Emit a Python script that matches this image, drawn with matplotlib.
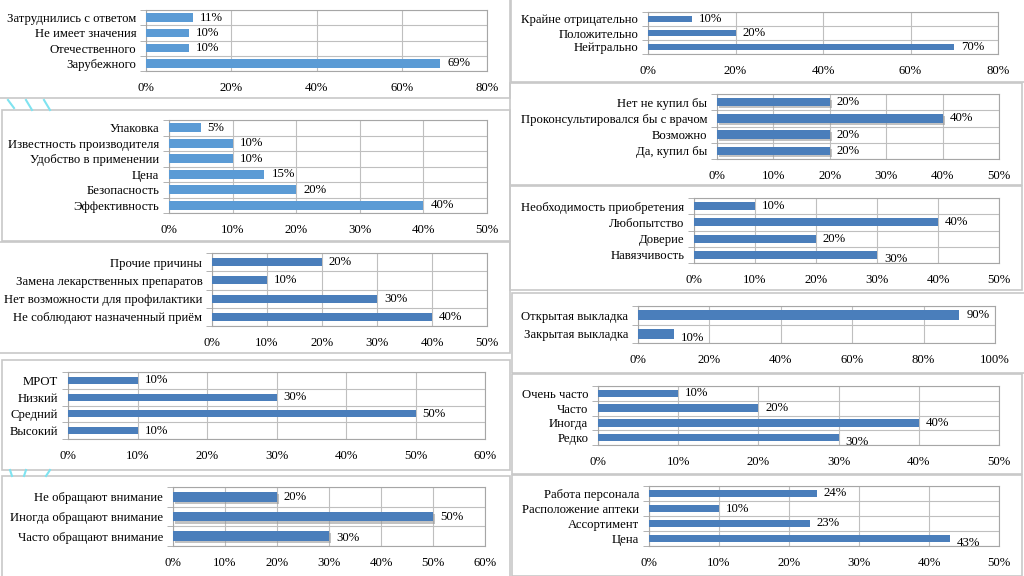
import matplotlib
matplotlib.use("Agg")
import matplotlib.pyplot as plt
import matplotlib.patheffects as pe
from matplotlib.patches import Rectangle
from matplotlib.lines import Line2D
import numpy as np

plt.rcParams['font.family'] = ['Liberation Serif', 'DejaVu Serif']

W, H = 1024, 576

# ---- data (categories listed top to bottom, values in %) ----
origin_cats = ["Затруднились с ответом", "Не имеет значения", "Отечественного", "Зарубежного"]
origin_vals = [11, 10, 10, 69]

factor_cats = ["Упаковка", "Известность производителя", "Удобство в применении",
               "Цена", "Безопасность", "Эффективность"]
factor_vals = [5, 10, 10, 15, 20, 40]

reason_cats = ["Прочие причины", "Замена лекарственных препаратов",
               "Нет возможности для профилактики", "Не соблюдают назначенный приём"]
reason_vals = [20, 10, 30, 40]

income_cats = ["МРОТ", "Низкий", "Средний", "Высокий"]
income_vals = [10, 30, 50, 10]

attention_cats = ["Не обращают внимание", "Иногда обращают внимание", "Часто обращают внимание"]
attention_vals = [20, 50, 30]

attitude_cats = ["Крайне отрицательно", "Положительно", "Нейтрально"]
attitude_vals = [10, 20, 70]

buy_cats = ["Нет не купил бы", "Проконсультировался бы с врачом", "Возможно", "Да, купил бы"]
buy_vals = [20, 40, 20, 20]

motive_cats = ["Необходимость приобретения", "Любопытство", "Доверие", "Навязчивость"]
motive_vals = [10, 40, 20, 30]

display_cats = ["Открытая выкладка", "Закрытая выкладка"]
display_vals = [90, 10]

freq_cats = ["Очень часто", "Часто", "Иногда", "Редко"]
freq_vals = [10, 20, 40, 30]

choice_cats = ["Работа персонала", "Расположение аптеки", "Ассортимент", "Цена"]
choice_vals = [24, 10, 23, 43]

# ---- layout: plot box (left, top, right, bottom) px, x max, x step, colour, shadow, bar height,
#      drop (pt) of the last data label ----
light = "#5B9BD5"
dark = "#4A7EBB"
panels = [
    (origin_cats, origin_vals, (146, 10, 487, 71), 80, 20, light, False, 0.55, 0),
    (factor_cats, factor_vals, (169, 120, 487, 213), 50, 10, light, False, 0.55, 0),
    (reason_cats, reason_vals, (212, 253, 487, 326), 50, 10, dark, False, 0.45, 0),
    (income_cats, income_vals, (68, 372, 485, 439), 60, 10, dark, False, 0.42, 0),
    (attention_cats, attention_vals, (173, 487, 485, 546), 60, 10, dark, True, 0.5, 1),
    (attitude_cats, attitude_vals, (648, 12, 998, 54), 80, 20, dark, False, 0.4, 0),
    (buy_cats, buy_vals, (717, 94, 999, 159), 50, 10, dark, True, 0.52, 0),
    (motive_cats, motive_vals, (694, 198, 999, 263), 50, 10, dark, False, 0.5, 3),
    (display_cats, display_vals, (638, 306, 995, 343), 100, 20, dark, False, 0.52, 3),
    (freq_cats, freq_vals, (598, 386, 999, 445), 50, 10, dark, False, 0.5, 3),
    (choice_cats, choice_vals, (649, 486, 999, 546), 50, 10, dark, False, 0.48, 3),
]

# outer frames of the pasted pictures (left, top, right, bottom) px
frames = [
    (-2, -2, 510, 98), (2, 110, 510, 241), (-2, 242, 510, 353),
    (2, 360, 510, 470), (2, 476, 510, 578),
    (511, -2, 1026, 82), (510, 83, 1022, 185), (510, 186, 1022, 290),
    (512, 293, 1026, 373), (512, 374, 1022, 474), (512, 475, 1022, 576),
]

fig = plt.figure(figsize=(W / 100, H / 100), dpi=100)
fig.patch.set_facecolor("white")

for (l, t, r, b) in frames:
    fig.patches.append(Rectangle((l / W, 1 - b / H), (r - l) / W, (b - t) / H,
                                 transform=fig.transFigure, fill=False,
                                 edgecolor="#C8C8C8", linewidth=1.2))

# little cyan decorations of the slide background
for (x0, y0, x1, y1) in [(8, 100, 14, 108), (26, 100, 32, 110), (44, 100, 50, 110),
                         (10, 470, 12, 476), (26, 470, 24, 476), (50, 470, 46, 476)]:
    fig.lines.append(Line2D([x0 / W, x1 / W], [1 - y0 / H, 1 - y1 / H],
                            transform=fig.transFigure, color="#7FE3F0", linewidth=1.5))

fs = 9.2
for cats, vals, (l, t, r, b), xmax, step, col, shadow, bh, drop in panels:
    ax = fig.add_axes([l / W, 1 - b / H, (r - l) / W, (b - t) / H])
    n = len(cats)
    y = np.arange(n)
    bars = ax.barh(y, vals, height=bh, color=col, zorder=3)
    if shadow:
        for p in bars:
            p.set_path_effects([pe.SimplePatchShadow(offset=(1.5, -1.5), shadow_rgbFace="#9A9A9A", alpha=0.6),
                                pe.Normal()])
    ax.set_xlim(0, xmax)
    ax.set_ylim(n - 0.5, -0.5)
    xt = np.arange(0, xmax + 1, step)
    ax.set_xticks(xt)
    ax.set_xticklabels([f"{v}%" for v in xt])
    ax.set_yticks(y)
    ax.set_yticklabels(cats)
    ax.set_yticks(np.arange(n + 1) - 0.5, minor=True)
    ax.tick_params(axis="y", which="major", length=0, labelsize=fs, pad=7)
    ax.tick_params(axis="y", which="minor", length=4, color="#A6A6A6", direction="out")
    ax.tick_params(axis="x", length=0, labelsize=fs, pad=8)
    ax.grid(axis="x", which="major", color="#BFBFBF", linewidth=0.8, zorder=0)
    ax.grid(axis="y", which="minor", color="#BFBFBF", linewidth=0.8, zorder=0)
    for s in ax.spines.values():
        s.set_color("#A6A6A6")
        s.set_linewidth(0.8)
    for i, v in enumerate(vals):
        dy = -drop if i == n - 1 else 0
        ax.annotate(f"{v}%", (v, i), xytext=(5, dy), textcoords="offset points",
                    va="center", ha="left", fontsize=fs, zorder=4)

fig.savefig("out.png", dpi=100, facecolor="white")
